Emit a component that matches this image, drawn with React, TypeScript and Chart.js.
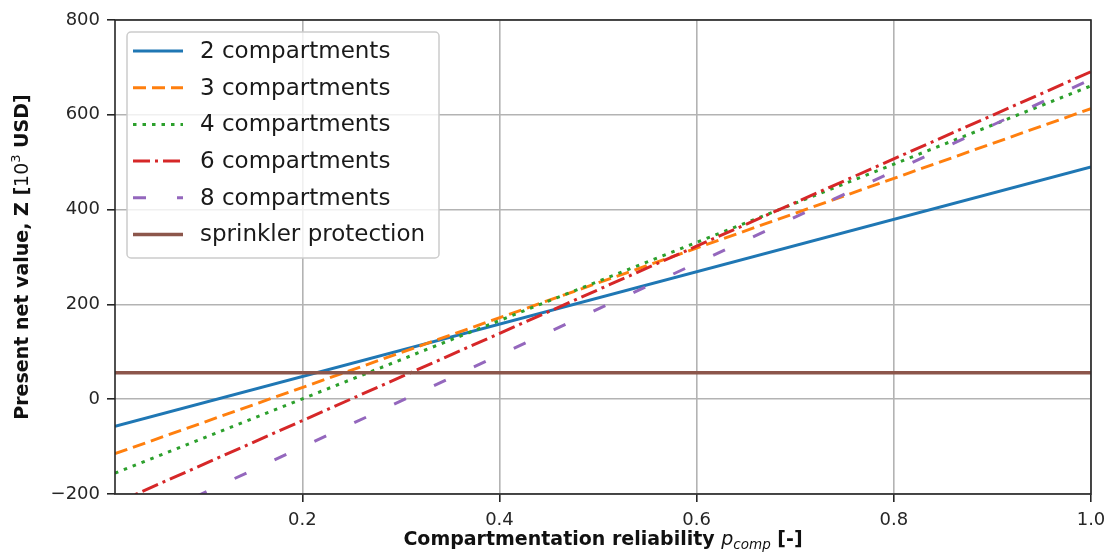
import React, { useEffect, useRef } from "react";
import { Chart, registerables } from "chart.js";

Chart.register(...registerables);

// ---- data ----
const xValues = [0.01, 1.0];
const seriesLabels = [
  "2 compartments",
  "3 compartments",
  "4 compartments",
  "6 compartments",
  "8 compartments",
  "sprinkler protection",
];
const comp2 = [-57, 490];
const comp3 = [-115, 613];
const comp4 = [-156, 661];
const comp6 = [-220, 691];
const comp8 = [-285, 675];
const sprinkler = [56, 56];
const xTicks = [0.2, 0.4, 0.6, 0.8, 1.0];
const yTicks = [-200, 0, 200, 400, 600, 800];
const xMin = 0.01;
const xMax = 1.0;
const yMin = -200;
const yMax = 800;

const seriesValues = [comp2, comp3, comp4, comp6, comp8, sprinkler];
const seriesColors = ["#1f77b4", "#ff7f0e", "#2ca02c", "#d62728", "#9467bd", "#8c564b"];
const seriesDashes: number[][] = [[], [13, 6], [3.5, 6], [17, 5, 3, 5], [13, 31], []];
const seriesWidths = [3, 3, 3, 3, 3, 3.5];

const FONT = "'DejaVu Sans', sans-serif";

type Run = { t: string; f: string; dy?: number };

function drawRuns(ctx: CanvasRenderingContext2D, runs: Run[], cx: number, y: number) {
  let total = 0;
  const widths = runs.map((r) => {
    ctx.font = r.f;
    const w = ctx.measureText(r.t).width;
    total += w;
    return w;
  });
  let x = cx - total / 2;
  ctx.textAlign = "left";
  ctx.textBaseline = "alphabetic";
  runs.forEach((r, i) => {
    ctx.font = r.f;
    ctx.fillText(r.t, x, y + (r.dy || 0));
    x += widths[i];
  });
}

const decorPlugin = {
  id: "decor",
  afterDatasetsDraw(chart: any) {
    const { ctx, chartArea: a } = chart;
    ctx.save();
    // spines
    ctx.strokeStyle = "#262626";
    ctx.lineWidth = 1.6;
    ctx.setLineDash([]);
    ctx.strokeRect(a.left, a.top, a.right - a.left, a.bottom - a.top);

    // legend
    const bx = a.left + 12;
    const by = a.top + 12;
    const bw = 312;
    const bh = 226;
    const r = 4;
    ctx.beginPath();
    ctx.moveTo(bx + r, by);
    ctx.lineTo(bx + bw - r, by);
    ctx.arcTo(bx + bw, by, bx + bw, by + r, r);
    ctx.lineTo(bx + bw, by + bh - r);
    ctx.arcTo(bx + bw, by + bh, bx + bw - r, by + bh, r);
    ctx.lineTo(bx + r, by + bh);
    ctx.arcTo(bx, by + bh, bx, by + bh - r, r);
    ctx.lineTo(bx, by + r);
    ctx.arcTo(bx, by, bx + r, by, r);
    ctx.closePath();
    ctx.fillStyle = "rgba(255,255,255,0.8)";
    ctx.fill();
    ctx.strokeStyle = "#cccccc";
    ctx.lineWidth = 1.5;
    ctx.stroke();

    const rowTop = a.top + 31;
    const rowGap = 36.7;
    chart.data.datasets.forEach((ds: any, i: number) => {
      const yy = rowTop + i * rowGap;
      ctx.beginPath();
      ctx.setLineDash(ds.borderDash || []);
      ctx.lineCap = "butt";
      ctx.strokeStyle = ds.borderColor;
      ctx.lineWidth = ds.borderWidth;
      ctx.moveTo(a.left + 18, yy);
      ctx.lineTo(a.left + 68, yy);
      ctx.stroke();
      ctx.setLineDash([]);
      ctx.fillStyle = "#1a1a1a";
      ctx.font = `23px ${FONT}`;
      ctx.textAlign = "left";
      ctx.textBaseline = "middle";
      ctx.fillText(ds.label, a.left + 85, yy + 1);
    });
    ctx.restore();
  },
  afterDraw(chart: any) {
    const { ctx, chartArea: a } = chart;
    ctx.save();
    ctx.fillStyle = "#111111";
    // x title
    drawRuns(
      ctx,
      [
        { t: "Compartmentation reliability ", f: `bold 19px ${FONT}` },
        { t: "p", f: `italic 19px ${FONT}` },
        { t: "comp", f: `italic 13.5px ${FONT}`, dy: 4 },
        { t: " [-]", f: `bold 19px ${FONT}` },
      ],
      (a.left + a.right) / 2,
      545
    );
    // y title
    ctx.translate(28, (a.top + a.bottom) / 2);
    ctx.rotate(-Math.PI / 2);
    drawRuns(
      ctx,
      [
        { t: "Present net value, Z [", f: `bold 19px ${FONT}` },
        { t: "10", f: `19px ${FONT}` },
        { t: "3", f: `13px ${FONT}`, dy: -8 },
        { t: " USD]", f: `bold 19px ${FONT}` },
      ],
      0,
      0
    );
    ctx.restore();
  },
};

export default function App() {
  const ref = useRef<HTMLCanvasElement | null>(null);

  useEffect(() => {
    if (!ref.current) return;
    const datasets = seriesLabels.map((label, i) => ({
      label,
      data: xValues.map((x, j) => ({ x, y: seriesValues[i][j] })),
      borderColor: seriesColors[i],
      backgroundColor: seriesColors[i],
      borderWidth: seriesWidths[i],
      borderDash: seriesDashes[i],
      borderCapStyle: "butt" as const,
      pointRadius: 0,
      pointHoverRadius: 0,
      tension: 0,
      fill: false,
      order: seriesLabels.length - i,
    }));

    const tickFont = { family: FONT, size: 18 };
    const chart = new Chart(ref.current, {
      type: "line",
      data: { datasets },
      options: {
        animation: false,
        responsive: false,
        maintainAspectRatio: false,
        layout: { padding: { top: 20, right: 16, left: 0, bottom: 0 } },
        plugins: {
          legend: { display: false },
          title: { display: false },
          tooltip: { enabled: false },
        },
        events: [],
        scales: {
          x: {
            type: "linear",
            min: xMin,
            max: xMax,
            afterBuildTicks: (scale: any) => {
              scale.ticks = xTicks.map((v) => ({ value: v }));
            },
            afterFit: (scale: any) => {
              scale.height = 63;
              scale.paddingRight = 0;
              scale.paddingLeft = 0;
            },
            ticks: {
              font: tickFont,
              color: "#262626",
              padding: 8,
              maxRotation: 0,
              callback: (v: any) => Number(v).toFixed(1),
            },
            grid: {
              color: "#b3b3b3",
              lineWidth: 1.6,
              tickColor: "#262626",
              tickWidth: 1.6,
              tickLength: 8,
            },
            border: { display: false },
          },
          y: {
            type: "linear",
            min: yMin,
            max: yMax,
            afterBuildTicks: (scale: any) => {
              scale.ticks = yTicks.map((v) => ({ value: v }));
            },
            afterFit: (scale: any) => {
              scale.width = 115;
            },
            ticks: {
              font: tickFont,
              color: "#262626",
              padding: 7,
              callback: (v: any) => (Number(v) < 0 ? "\u2212" + Math.abs(Number(v)) : String(v)),
            },
            grid: {
              color: "#b3b3b3",
              lineWidth: 1.6,
              tickColor: "#262626",
              tickWidth: 1.6,
              tickLength: 8,
            },
            border: { display: false },
          },
        },
      },
      plugins: [decorPlugin],
    });
    return () => chart.destroy();
  }, []);

  return (
    <div style={{ position: "fixed", left: 0, top: 0, width: 1107, height: 557, background: "#ffffff" }}>
      <canvas ref={ref} width={1107} height={557} style={{ display: "block" }} />
    </div>
  );
}
